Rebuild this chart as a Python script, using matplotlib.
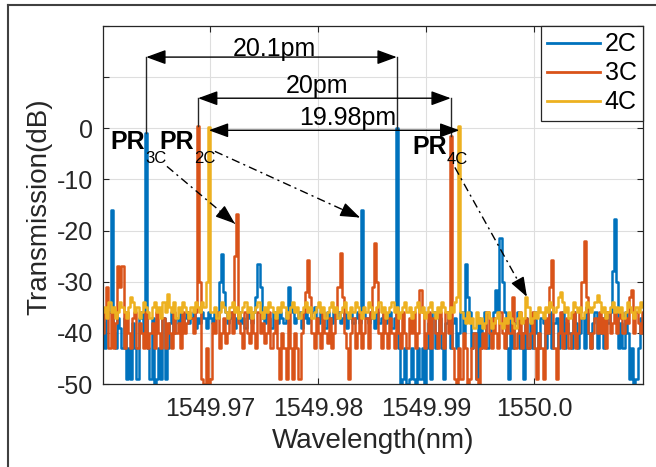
import numpy as np
import matplotlib
matplotlib.use('Agg')
import matplotlib.pyplot as plt
from matplotlib.lines import Line2D

plt.rcParams['font.family'] = ['Liberation Sans', 'DejaVu Sans']

# ---------------- data ----------------
wl_start, wl_end, n_pts = 1549.9601, 1550.0101, 251   # wavelength sampling grid (nm)
series_names = ['2C', '3C', '4C']
series_colors = ['#0072BD', '#D95319', '#EDB120']

t_2c = [
    -38, -43, -37, -36, -16, -40, -43, -37, -39, -43,
    -37, -49, -43, -49, -38, -43, -49, -37, -36, -40,
    -1, -43, -49, -37, -50, -49, -43, -49, -37, -49,
    -43, -38, -36, -40, -37, -38, -36, -39, -37, -36,
    -38, -37, -36, -39, -37, -38, -36, -37, -39, -36,
    -37, -38, -36, -37, -30, -24.5, -32, -36, -38, -37,
    -36, -39, -37, -36, -38, -37, -39, -36, -37, -38,
    -36, -33, -26.5, -31, -37, -38, -36, -37, -39, -36,
    -37, -38, -36, -37, -38, -36, -31, -35, -36, -38,
    -37, -36, -39, -37, -36, -38, -37, -36, -35, -37,
    -38, -36, -37, -39, -36, -37, -38, -36, -37, -36,
    -38, -37, -36, -39, -37, -36, -38, -37, -36, -38,
    -16, -36, -37, -38, -36, -37, -39, -36, -38, -37,
    -36, -38, -37, -36, -39, -37, 0, -43, -50, -49,
    -43, -50, -49, -43, -49, -50, -43, -49, -43, -50,
    -43, -38, -49, -36, -43, -40, -37, -43, -49, -38,
    -36, -43, -38, -37, -43, -40, -36, -40, -26.5, -33,
    -36, -43, -40, -49, -37, -43, -38, -36, -43, -40,
    -38, -36, -31.6, -36, -21.4, -30, -36, -43, -49, -37,
    -43, -38, -36, -43, -40, -49, -37, -43, -38, -43,
    -36, -40, -43, -37, -38, -43, -40, -36, -43, -38,
    -37, -43, -40, -36, -43, -38, -40, -43, -36, -38,
    -43, -40, -37, -43, -35, -40, -43, -38, -36, -43,
    -40, -37, -43, -36, -38, -36, -28, -17.7, -30, -43,
    -38, -43, -36, -40, -49, -43, -50, -49, -43, -37,
    -40,
]

t_3c = [
    -40, -36, -31, -43, -36, -43, -38, -27, -31, -27,
    -43, -36, -40, -43, -37, -36, -43, -38, -40, -43,
    -36, -43, -40, -38, -43, -36, -40, -43, -37, -43,
    -38, -40, -43, -36, -40, -38, -43, -36, -40, -38,
    -36, -37, -40, -36, 0.5, -30, -49, -50, -43, -50,
    -49, -38, -40, -36, -43, -40, -37, -42, -40, -36,
    -40, -25, -16.7, -38, -40, -43, -36, -40, -42, -37,
    -40, -43, -36, -40, -38, -42, -40, -36, -43, -40,
    -37, -43, -49, -40, -43, -49, -36, -43, -49, -40,
    -43, -49, -40, -36, -32, -25.7, -33, -40, -43, -37,
    -40, -43, -36, -40, -42, -37, -43, -40, -36, -31,
    -24.3, -33, -40, -43, -49, -40, -37, -43, -40, -36,
    -43, -40, -37, -43, -36, -31, -22.4, -30, -40, -43,
    -36, -40, -43, -37, -40, -43, -36, -40, -43, -36,
    -40, -43, -37, -40, -36, -43, -40, -31.6, -36, -43,
    -40, -36, -43, -37, -40, -43, -36, -40, -43, -36,
    -40, -1.5, -43, -49, -50, -43, -49, -40, -43, -50,
    -49, -43, -40, -49, -50, -43, -40, -43, -36, -40,
    -43, -37, -40, -43, -36, -40, -43, -37, -40, -40,
    -33, -43, -40, -36, -43, -40, -37, -43, -40, -36,
    -43, -49, -40, -43, -49, -37, -40, -31, -25.7, -43,
    -49, -40, -36, -43, -40, -37, -43, -40, -36, -43,
    -40, -36, -30, -22, -33, -40, -43, -40, -37, -40,
    -36, -40, -37, -43, -36, -40, -38, -36, -40, -37,
    -36, -40, -37, -38, -33, -31.6, -40, -36, -38, -40,
    -36,
]

t_4c = [
    -36, -35, -37, -34, -36, -35, -37, -36, -34, -35,
    -36, -37, -35, -33, -34, -36, -35, -37, -36, -34,
    -35, -36, -37, -35, -34, -36, -35, -37, -34, -36,
    -32.4, -35, -36, -34, -37, -35, -36, -34, -35, -36,
    -37, -35, -36, -34, -35, -36, -34, -35, -30, 0.2,
    -36, -36, -35, -37, -36, -34, -35, -36, -37, -35,
    -34, -36, -35, -37, -36, -35, -34, -36, -35, -37,
    -36, -35, -34, -36, -37, -35, -36, -34, -35, -36,
    -37, -35, -36, -34, -35, -37, -36, -35, -34, -36,
    -35, -37, -36, -35, -34, -36, -35, -37, -36, -35,
    -34, -36, -35, -37, -36, -35, -34, -36, -35, -37,
    -36, -35, -34, -36, -37, -35, -36, -34, -35, -36,
    -37, -35, -36, -34, -35, -37, -36, -35, -34, -36,
    -35, -37, -36, -35, -34, -36, -35, -37, -36, -35,
    -34, -36, -35, -37, -36, -35, -34, -36, -35, -37,
    -36, -35, -34, -36, -37, -35, -36, -34, -35, -36,
    -37, -35, -36, -34, -33, 0.5, -36, -37, -38, -36,
    -38, -37, -39, -36, -38, -37, -39, -38, -36, -37,
    -39, -38, -37, -36, -38, -39, -37, -38, -36, -37,
    -38, -39, -37, -36, -38, -37, -33, -35, -38, -37,
    -36, -37, -35, -36, -37, -35, -36, -34, -35, -36,
    -35, -33, -32, -34, -36, -35, -37, -36, -34, -35,
    -36, -35, -37, -36, -34, -35, -36, -35, -34, -32.5,
    -34, -36, -35, -37, -36, -35, -34, -36, -35, -36,
    -35, -37, -36, -34, -35, -36, -37, -35, -36, -34,
    -35,
]

xtick_vals = [1549.97, 1549.98, 1549.99, 1550.00]
xtick_labels = ['1549.97', '1549.98', '1549.99', '1550.0']
ytick_vals = [-50, -40, -30, -20, -10, 0, 10, 20]
ytick_labels = ['-50', '-40', '-30', '-20', '-10', '0', '', '']
spacing_labels = ['20.1pm', '20pm', '19.98pm']
pr_labels = [('PR', '3C'), ('PR', '2C'), ('PR', '4C')]

# ---------------- figure ----------------
W, H = 656, 467
fig = plt.figure(figsize=(W / 100, H / 100), dpi=100)
ax = fig.add_axes([103 / W, 1 - 384 / H, 540 / W, 358 / H])

wl = np.linspace(wl_start, wl_end, n_pts)
all_series = [np.array(t_2c), np.array(t_3c), np.array(t_4c)]
for vals, name, col in zip(all_series, series_names, series_colors):
    ax.plot(wl, vals, color=col, lw=1.8, label=name, drawstyle='steps-mid')

ax.set_xlim(wl_start, wl_end)
ax.set_ylim(-50, 20)
ax.set_xticks(xtick_vals)
ax.set_xticklabels(xtick_labels)
ax.set_yticks(ytick_vals)
ax.set_yticklabels(ytick_labels)
ax.tick_params(direction='in', length=4, width=0.8, colors='#262626',
               labelsize=18, top=True, right=True)
ax.tick_params(axis='x', pad=9)
ax.tick_params(axis='y', pad=7)
ax.grid(True, color='#DEDEDE', lw=0.8)
ax.set_axisbelow(True)
for s in ax.spines.values():
    s.set_color('#262626')
    s.set_linewidth(0.9)

fig.text(373 / W, 1 - 441 / H, 'Wavelength(nm)', fontsize=20, color='#262626',
         ha='center', va='center')
fig.text(39 / W, 1 - 207 / H, 'Transmission(dB)', fontsize=20, color='#262626',
         ha='center', va='center', rotation=90)

leg = ax.legend(loc='upper right', fontsize=18, borderaxespad=0, borderpad=0.25,
                labelspacing=0.2, handlelength=2.1, handletextpad=0.2,
                fancybox=False, framealpha=1, edgecolor='#262626')
leg.get_frame().set_linewidth(0.9)
for h in leg.get_lines():
    h.set_linewidth(2)
    h.set_drawstyle('default')

# ---------------- annotations ----------------
def peaks(vals):
    idx = np.where(vals > -5)[0]
    return wl[idx], vals[idx]

p2x, p2y = peaks(all_series[0])
p3x, p3y = peaks(all_series[1])
p4x, p4y = peaks(all_series[2])

head = 'head_length=0.6,head_width=0.22'

def spacing(xs, ys, y_arrow, label, tx, ty, vlines):
    ax.annotate('', xy=(xs[0], y_arrow), xytext=(xs[1], y_arrow),
                arrowprops=dict(arrowstyle='<|-|>,' + head, color='k', lw=1,
                                shrinkA=0, shrinkB=0, mutation_scale=20))
    if vlines:
        for x, y in zip(xs, ys):
            ax.plot([x, x], [y_arrow, y], color='#262626', lw=1)
    ax.text(tx, ty, label, fontsize=18, color='k', ha='left', va='baseline')

spacing(p2x, p2y, 13.92, spacing_labels[0], 1549.97210, 14.1, True)
spacing(p3x, p3y, 5.88, spacing_labels[1], 1549.97704, 6.86, True)
spacing(p4x, p4y, -0.39, spacing_labels[2], 1549.97827, 0.59, False)

pr_pos = [((1549.96074, -4.12), (1549.96398, -6.86)),
          ((1549.96528, -4.12), (1549.96852, -6.86)),
          ((1549.98870, -5.10), (1549.99194, -7.06))]
for (main, sub), (pm, ps) in zip(pr_labels, pr_pos):
    ax.text(pm[0], pm[1], main, fontsize=18, fontweight='bold', color='k',
            ha='left', va='baseline')
    ax.text(ps[0], ps[1], sub, fontsize=12, color='k', ha='left', va='baseline')

dd_arrows = [((1549.96602, -7.45), (1549.97231, -18.63)),
             ((1549.97046, -4.51), (1549.98389, -17.45)),
             ((1549.99268, -7.65), (1549.99935, -32.94))]
for (x0, y0), (x1, y1) in dd_arrows:
    ax.plot([x0, x1], [y0, y1], color='k', lw=1, ls=(0, (6, 3, 1.5, 3)))
    f = 0.12
    ax.annotate('', xy=(x1, y1), xytext=(x1 - f * (x1 - x0), y1 - f * (y1 - y0)),
                arrowprops=dict(arrowstyle='-|>,' + head, color='k', lw=1,
                                shrinkA=0, shrinkB=0, mutation_scale=20))

# figure frame (top and left edges)
fig.add_artist(Line2D([8 / W, 1], [1 - 5 / H, 1 - 5 / H], transform=fig.transFigure,
                      color='#404040', lw=1.5))
fig.add_artist(Line2D([8 / W, 8 / W], [0, 1 - 5 / H], transform=fig.transFigure,
                      color='#404040', lw=1.5))

fig.savefig('out.png', dpi=100)
